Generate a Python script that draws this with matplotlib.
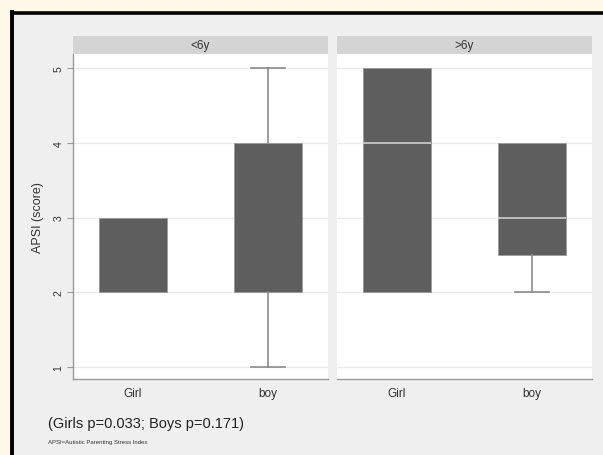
import matplotlib
matplotlib.use("Agg")
import matplotlib.pyplot as plt
from matplotlib.patches import Rectangle
from matplotlib.lines import Line2D

plt.rcParams['font.family'] = ['Liberation Sans', 'DejaVu Sans']

# box plot summaries
panels = ['<6y', '>6y']
groups = ['Girl', 'boy']
q1 = [[2, 2], [2, 2.5]]
med = [[3, 4], [4, 3]]
q3 = [[3, 4], [5, 4]]
whislo = [[2, 1], [2, 2]]
whishi = [[3, 5], [5, 4]]
yticks = [1, 2, 3, 4, 5]

W, H = 603, 456
fig = plt.figure(figsize=(W / 100, H / 100), dpi=100, facecolor='#fdf8e7')

def px(x, y, w, h):
    # pixel box (top-left origin) -> figure fraction
    return [x / W, 1 - (y + h) / H, w / W, h / H]

# inner grey page and black frame
fig.patches.append(Rectangle((12 / W, 0), 1, 1 - 14 / H, transform=fig.transFigure,
                             facecolor='#efefef', edgecolor='none', zorder=-10))
fig.lines.append(Line2D([12 / W, 1], [1 - 14 / H] * 2, transform=fig.transFigure,
                        color='black', lw=2.6, zorder=-5))
fig.lines.append(Line2D([12 / W] * 2, [0, 1 - 12.5 / H], transform=fig.transFigure,
                        color='black', lw=2.8, zorder=-5))

box_face = '#5e5e5e'
line_col = '#8c8c8c'

for i, name in enumerate(panels):
    x0 = 73 if i == 0 else 337
    ax = fig.add_axes(px(x0, 55, 255, 325))
    ax.set_facecolor('white')
    stats = []
    for j, g in enumerate(groups):
        stats.append(dict(label=g, q1=q1[i][j], med=med[i][j], q3=q3[i][j],
                          whislo=whislo[i][j], whishi=whishi[i][j], fliers=[]))
    art = ax.bxp(stats, positions=[1, 2], widths=0.5, patch_artist=True,
                 boxprops=dict(facecolor=box_face, edgecolor='#9a9a9a', linewidth=0.6),
                 medianprops=dict(color='#cfcfcf', linewidth=1.2),
                 whiskerprops=dict(color=line_col, linewidth=1.2),
                 capprops=dict(color=line_col, linewidth=1.2),
                 capwidths=0.25, zorder=3)
    # no whisker/cap when it sits on the box edge; median hidden on box edge
    for j in range(len(groups)):
        if whislo[i][j] == q1[i][j]:
            art['caps'][2 * j].set_visible(False)
        if whishi[i][j] == q3[i][j]:
            art['caps'][2 * j + 1].set_visible(False)
        if med[i][j] in (q1[i][j], q3[i][j]):
            art['medians'][j].set_visible(False)
    ax.set_xlim(0.557, 2.443)
    ax.set_ylim(0.84, 5.19)
    ax.set_yticks(yticks)
    ax.grid(axis='y', color='#ebebeb', linewidth=1.0, zorder=0)
    ax.set_axisbelow(True)
    for s in ['top', 'right']:
        ax.spines[s].set_visible(False)
    ax.spines['bottom'].set_color('#9a9a9a')
    ax.spines['bottom'].set_linewidth(1.0)
    ax.tick_params(axis='x', length=0, pad=6, labelsize=8.5, labelcolor='#333333')
    if i == 0:
        ax.spines['left'].set_color('#9a9a9a')
        ax.spines['left'].set_linewidth(1.0)
        ax.tick_params(axis='y', length=4, width=0.8, color='#9a9a9a',
                       labelsize=7.5, labelcolor='#333333', pad=3)
        for t in ax.get_yticklabels():
            t.set_rotation(90)
            t.set_va('center')
        ax.set_ylabel('APSI (score)', fontsize=9, color='#333333', labelpad=7)
    else:
        ax.spines['left'].set_visible(False)
        ax.tick_params(axis='y', length=0, labelleft=False)

    # strip header
    sa = fig.add_axes(px(x0, 37, 255, 18))
    sa.set_facecolor('#d4d4d4')
    sa.set_xticks([])
    sa.set_yticks([])
    for s in sa.spines.values():
        s.set_visible(False)
    sa.text(0.5, 0.5, name, ha='center', va='center', fontsize=8.5, color='#333333',
            transform=sa.transAxes)

fig.text(48 / W, 1 - 424 / H, '(Girls p=0.033; Boys p=0.171)', fontsize=10.5,
         color='#222222', va='center', ha='left')
fig.text(48 / W, 1 - 443 / H, 'APSI=Autistic Parenting Stress Index', fontsize=4.3,
         color='#333333', va='center', ha='left')

fig.savefig('out.png', dpi=100, facecolor=fig.get_facecolor())
